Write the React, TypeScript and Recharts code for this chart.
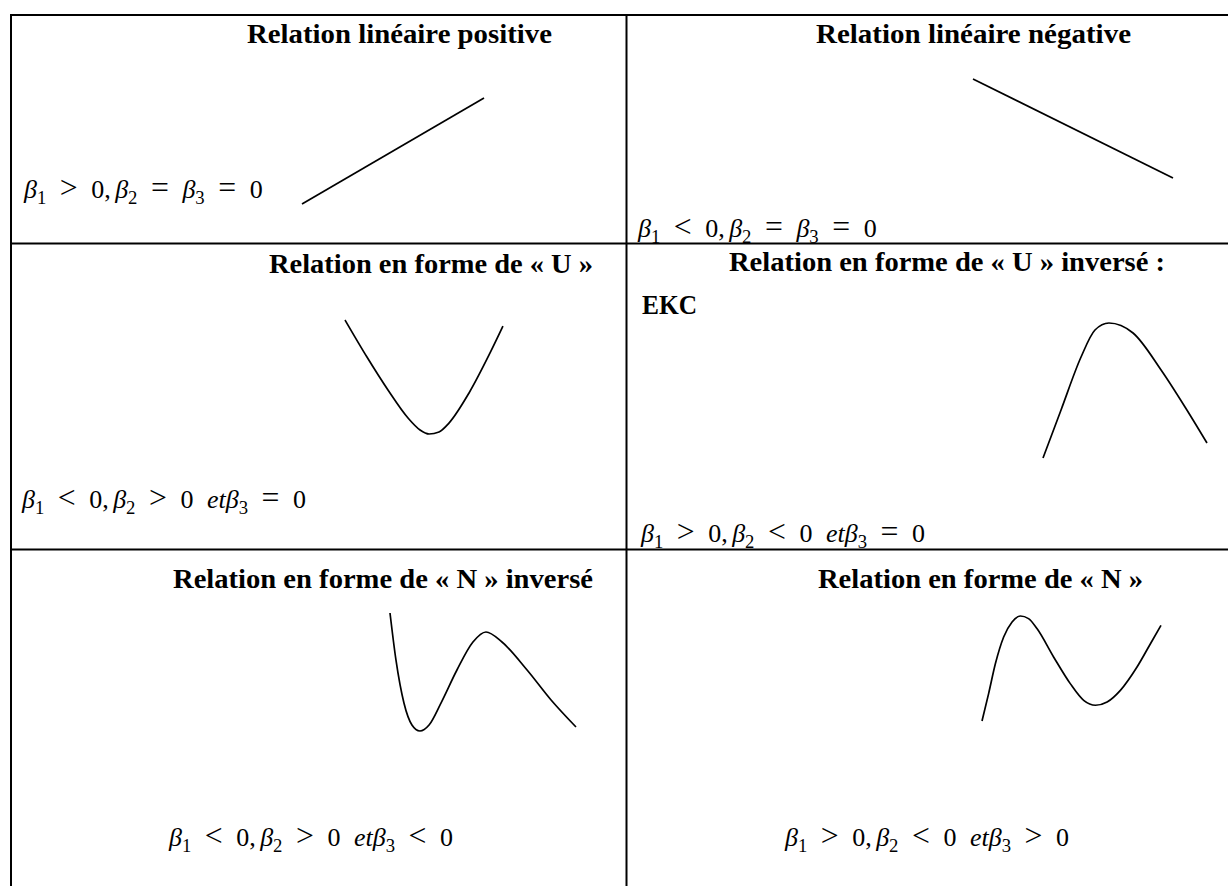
import React from 'react';
import { LineChart, Line, XAxis, YAxis } from 'recharts';

// curve shapes (x: 0..100 left→right, y: 0..100 bottom→top)
const positiveX = [0, 100];
const positiveY = [0, 100];
const negativeX = [0, 100];
const negativeY = [100, 0];
const uX = [0, 13.9, 27.2, 39.9, 47.5, 53.2, 59.5, 65.8, 78.5, 91.8, 100];
const uY = [100, 67.5, 38.6, 14.0, 3.5, 0, 1.8, 9.6, 36.0, 71.1, 94.7];
const invUX = [0, 11.0, 23.2, 31.7, 40.2, 54.9, 72.0, 86.6, 100];
const invUY = [0, 35.6, 74.8, 94.8, 100, 92.6, 65.2, 37.8, 11.1];
const invNX = [0, 3.2, 7.5, 11.8, 16.1, 21.0, 27.4, 36.0, 44.6, 51.6, 60.2, 73.7, 86.6, 100];
const invNY = [100, 60.2, 23.7, 5.1, 0, 5.1, 23.7, 51.7, 75.4, 83.9, 75.4, 51.7, 26.3, 3.4];
const nX = [0, 3.7, 7.5, 12.1, 16.8, 21.4, 26.0, 30.7, 40.0, 49.3, 56.8, 63.4, 69.9, 77.3, 86.6, 94.1, 100];
const nY = [0, 26.1, 54.7, 80.0, 94.3, 100, 97.5, 88.0, 61.0, 35.6, 19.7, 15.0, 18.1, 29.2, 51.4, 73.6, 91.1];

const titles = [
  'Relation linéaire positive',
  'Relation linéaire négative',
  'Relation en forme de « U »',
  'Relation en forme de « U » inversé :',
  'Relation en forme de « N » inversé',
  'Relation en forme de « N »',
];
const subtitle = 'EKC';
const formulas = [
  'β1 > 0, β2 = β3 = 0',
  'β1 < 0, β2 = β3 = 0',
  'β1 < 0, β2 > 0 etβ3 = 0',
  'β1 > 0, β2 < 0 etβ3 = 0',
  'β1 < 0, β2 > 0 etβ3 < 0',
  'β1 > 0, β2 < 0 etβ3 > 0',
];

// layout
const titlePos = [
  { x: 247, y: 43, w: 305 },
  { x: 816, y: 43, w: 315 },
  { x: 269, y: 273, w: 324 },
  { x: 729, y: 271, w: 436 },
  { x: 173, y: 588, w: 420 },
  { x: 818, y: 588, w: 325 },
];
const formulaPos = [
  { x: 24, y: 198 },
  { x: 638, y: 237 },
  { x: 22, y: 508 },
  { x: 641, y: 542 },
  { x: 169, y: 846 },
  { x: 785, y: 846 },
];
const boxes = [
  { left: 302, top: 98, width: 182, height: 106 },
  { left: 973, top: 79, width: 200, height: 99 },
  { left: 345, top: 320, width: 158, height: 114 },
  { left: 1043, top: 323, width: 164, height: 135 },
  { left: 390, top: 613, width: 186, height: 118 },
  { left: 982, top: 616, width: 179, height: 105 },
];

const curves = [
  { xs: positiveX, ys: positiveY, type: 'linear' },
  { xs: negativeX, ys: negativeY, type: 'linear' },
  { xs: uX, ys: uY, type: 'monotone' },
  { xs: invUX, ys: invUY, type: 'monotone' },
  { xs: invNX, ys: invNY, type: 'monotone' },
  { xs: nX, ys: nY, type: 'monotone' },
];

const SERIF = '"Liberation Serif", "Times New Roman", serif';
const PAD = 4;

function Sketch({ box, xs, ys, type }: any) {
  const data = xs.map((x: number, i: number) => ({ x, y: ys[i] }));
  return (
    <div style={{ position: 'absolute', left: box.left - PAD, top: box.top - PAD }}>
      <LineChart
        width={box.width + PAD * 2}
        height={box.height + PAD * 2}
        data={data}
        margin={{ top: PAD, right: PAD, bottom: PAD, left: PAD }}
      >
        <XAxis type="number" dataKey="x" domain={[0, 100]} hide />
        <YAxis type="number" domain={[0, 100]} hide />
        <Line
          type={type}
          dataKey="y"
          stroke="#000"
          strokeWidth={1.7}
          dot={false}
          activeDot={false}
          isAnimationActive={false}
        />
      </LineChart>
    </div>
  );
}

// small math renderer: italic letters, β followed by a digit gets a subscript,
// relations drawn a bit larger like a math font
function MathText({ x, y, text, size }: { x: number; y: number; text: string; size: number }) {
  const spans: React.ReactNode[] = [];
  let gap = 0;
  let shift = 0;
  const subShift = size * 0.24;
  for (let i = 0; i < text.length; i++) {
    const c = text[i];
    if (c === ' ') {
      gap += text[i - 1] === ',' ? size * 0.17 : size * 0.52;
      continue;
    }
    const isSub = /[0-9]/.test(c) && text[i - 1] === 'β';
    const isRel = /[<>=]/.test(c);
    const dy = (isSub ? subShift : 0) - shift;
    shift = isSub ? subShift : 0;
    spans.push(
      <tspan
        key={i}
        dx={gap || undefined}
        dy={dy || undefined}
        fontSize={isSub ? size * 0.72 : isRel ? size * 1.22 : size}
        fontStyle={/[a-zβ]/.test(c) ? 'italic' : 'normal'}
      >
        {c}
      </tspan>
    );
    gap = 0;
  }
  return (
    <text x={x} y={y} fontFamily={SERIF} fill="#000">
      {spans}
    </text>
  );
}

export default function App() {
  return (
    <div
      style={{
        position: 'absolute',
        left: 0,
        top: 0,
        width: 1228,
        height: 886,
        background: '#fff',
        overflow: 'hidden',
      }}
    >
      <svg width={1228} height={886} style={{ position: 'absolute', left: 0, top: 0 }}>
        {/* table rules */}
        <line x1={10} y1={15} x2={1228} y2={15} stroke="#000" strokeWidth={2} />
        <line x1={10} y1={243.5} x2={1228} y2={243.5} stroke="#000" strokeWidth={2} />
        <line x1={10} y1={549.5} x2={1228} y2={549.5} stroke="#000" strokeWidth={2} />
        <line x1={11} y1={14} x2={11} y2={886} stroke="#000" strokeWidth={2} />
        <line x1={626.5} y1={14} x2={626.5} y2={886} stroke="#000" strokeWidth={2} />

        {titles.map((t, i) => (
          <text
            key={t}
            x={titlePos[i].x}
            y={titlePos[i].y}
            fontFamily={SERIF}
            fontWeight="bold"
            fontSize={28}
            textLength={titlePos[i].w}
            lengthAdjust="spacingAndGlyphs"
            fill="#000"
          >
            {t}
          </text>
        ))}
        <text
          x={642}
          y={314}
          fontFamily={SERIF}
          fontWeight="bold"
          fontSize={28}
          textLength={55}
          lengthAdjust="spacingAndGlyphs"
          fill="#000"
        >
          {subtitle}
        </text>

        {formulas.map((f, i) => (
          <MathText key={f + i} x={formulaPos[i].x} y={formulaPos[i].y} text={f} size={26} />
        ))}
      </svg>

      {curves.map((c, i) => (
        <Sketch key={i} box={boxes[i]} xs={c.xs} ys={c.ys} type={c.type} />
      ))}
    </div>
  );
}
